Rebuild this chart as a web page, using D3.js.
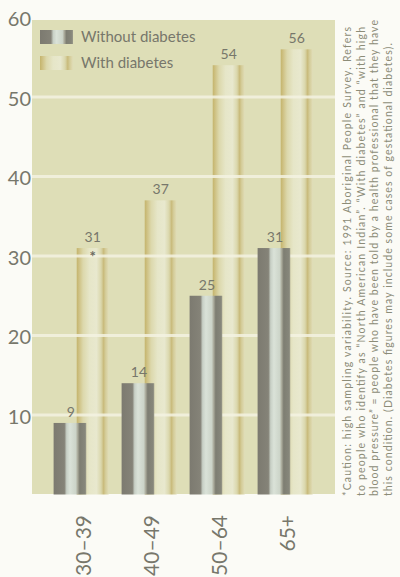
<!DOCTYPE html>
<html><head><meta charset="utf-8">
<script src="https://cdn.jsdelivr.net/npm/d3@7"></script>
<style>
html,body{margin:0;padding:0;background:#fbfbf6;}
svg{display:block;}
text{font-family:Lato,"Open Sans",sans-serif;}
</style></head>
<body><svg id="c" width="400" height="577"></svg>
<script>
const categories = ["30\u201339", "40\u201349", "50\u201364", "65+"];
const withoutDiabetes = [9, 14, 25, 31];
const withDiabetes = [31, 37, 54, 56];
const withFlags = ["*", "", "", ""];
const seriesNames = ["Without diabetes", "With diabetes"];
const yTicks = [10, 20, 30, 40, 50, 60];
const noteLines = [
  "*Caution: high sampling variability. Source: 1991 Aboriginal People Survey. Refers",
  "to people who identify as \u201cNorth American Indian\u201d. \u201cWith diabetes\u201d and \u201cwith high",
  "blood pressure\u201d = people who have been told by a health professional that they have",
  "this condition. (Diabetes figures may include some cases of gestational diabetes)."
];

const svg = d3.select("#c");
const txt = "#77776b";

const y = d3.scaleLinear().domain([0, 60]).range([494.5, 17.5]);
const x = d3.scaleBand().domain(categories).range([40, 312]);
const bw = x.bandwidth();

const defs = svg.append("defs");
const g1 = defs.append("linearGradient").attr("id", "gGray");
[[0,"#7c7a70"],[0.33,"#858378"],[0.40,"#c8d0c6"],[0.5,"#dae2d8"],[0.68,"#ccd4c8"],[0.74,"#a8a898"],[0.80,"#7e7e72"],[0.95,"#86867a"],[1,"#9a9a8a"]]
  .forEach(([o,c]) => g1.append("stop").attr("offset", o).attr("stop-color", c));
const g2 = defs.append("linearGradient").attr("id", "gKhaki");
[[0,"#c4b46c"],[0.08,"#cfc285"],[0.2,"#dcd8ac"],[0.4,"#e6e6c8"],[0.62,"#e8e8ce"],[0.76,"#dad7ac"],[0.84,"#c9bb7c"],[0.9,"#d4cc98"],[1,"#e0ddb8"]]
  .forEach(([o,c]) => g2.append("stop").attr("offset", o).attr("stop-color", c));

// plot background
svg.append("rect").attr("x", 32).attr("y", 20).attr("width", 303).attr("height", 474).attr("fill", "#dedeb7");

// with-diabetes bars (behind)
svg.append("g").selectAll("rect").data(categories).join("rect")
  .attr("x", d => x(d) + bw * 0.54)
  .attr("width", bw * 0.47)
  .attr("y", (d, i) => y(withDiabetes[i]))
  .attr("height", (d, i) => y(0) - y(withDiabetes[i]))
  .attr("fill", "url(#gKhaki)");

// gridlines
svg.append("g").selectAll("line").data(yTicks.filter(t => t < 60)).join("line")
  .attr("x1", 32).attr("x2", 335)
  .attr("y1", d => y(d)).attr("y2", d => y(d))
  .attr("stroke", "#f3f2e2").attr("stroke-width", 3).attr("stroke-opacity", 0.85);

// without-diabetes bars (front)
svg.append("g").selectAll("rect").data(categories).join("rect")
  .attr("x", d => x(d) + bw * 0.2)
  .attr("width", bw * 0.48)
  .attr("y", (d, i) => y(withoutDiabetes[i]))
  .attr("height", (d, i) => y(0) - y(withoutDiabetes[i]))
  .attr("fill", "url(#gGray)");

// value labels
svg.append("g").selectAll("text").data(categories).join("text")
  .attr("x", d => x(d) + bw * 0.2 + bw * 0.24 + 1)
  .attr("y", (d, i) => y(withoutDiabetes[i]) - 6)
  .attr("text-anchor", "middle").attr("font-size", 14).attr("fill", txt)
  .text((d, i) => withoutDiabetes[i]);
svg.append("g").selectAll("text").data(categories).join("text")
  .attr("x", d => x(d) + bw * 0.54 + bw * 0.235)
  .attr("y", (d, i) => y(withDiabetes[i]) - 6)
  .attr("text-anchor", "middle").attr("font-size", 14).attr("fill", txt)
  .text((d, i) => withDiabetes[i]);
svg.append("g").selectAll("text").data(categories.filter((d, i) => withFlags[i])).join("text")
  .attr("x", d => x(d) + bw * 0.54 + bw * 0.235)
  .attr("y", d => y(withDiabetes[categories.indexOf(d)]) + 14)
  .attr("text-anchor", "middle").attr("font-size", 15).attr("font-weight", "bold").attr("fill", "#6a6a60")
  .text(d => withFlags[categories.indexOf(d)]);

// y axis
const ya = svg.append("g").attr("transform", "translate(31,2)")
  .call(d3.axisLeft(y).tickValues(yTicks).tickSize(0).tickPadding(0));
ya.select(".domain").remove();
ya.selectAll("text").attr("font-size", 20).attr("fill", txt).attr("font-family", "Lato, sans-serif");

// x axis (rotated)
svg.append("g").selectAll("text").data(categories).join("text")
  .attr("transform", d => `translate(${x(d) + bw * 0.64},515) rotate(-90)`)
  .attr("text-anchor", "end").attr("dy", "0.35em")
  .attr("font-size", 21).attr("fill", txt)
  .text(d => d);

// legend
const lg = svg.append("g");
seriesNames.forEach((name, i) => {
  lg.append("rect").attr("x", 40).attr("y", 30 + i * 26).attr("width", 33).attr("height", 14)
    .attr("fill", i === 0 ? "url(#gGray)" : "url(#gKhaki)");
  lg.append("text").attr("x", 81).attr("y", 37 + i * 26).attr("dy", "0.35em")
    .attr("font-size", 15).attr("fill", txt).text(name);
});

// side note
const noteLens = [469, 469, 476, 453];
svg.append("g").selectAll("text").data(noteLines).join("text")
  .attr("transform", (d, i) => `translate(${351 + i * 13.7},496) rotate(-90)`)
  .attr("font-size", 10.5).attr("fill", "#8c8c78")
  .attr("textLength", (d, i) => noteLens[i]).attr("lengthAdjust", "spacing")
  .text(d => d);
</script></body></html>
